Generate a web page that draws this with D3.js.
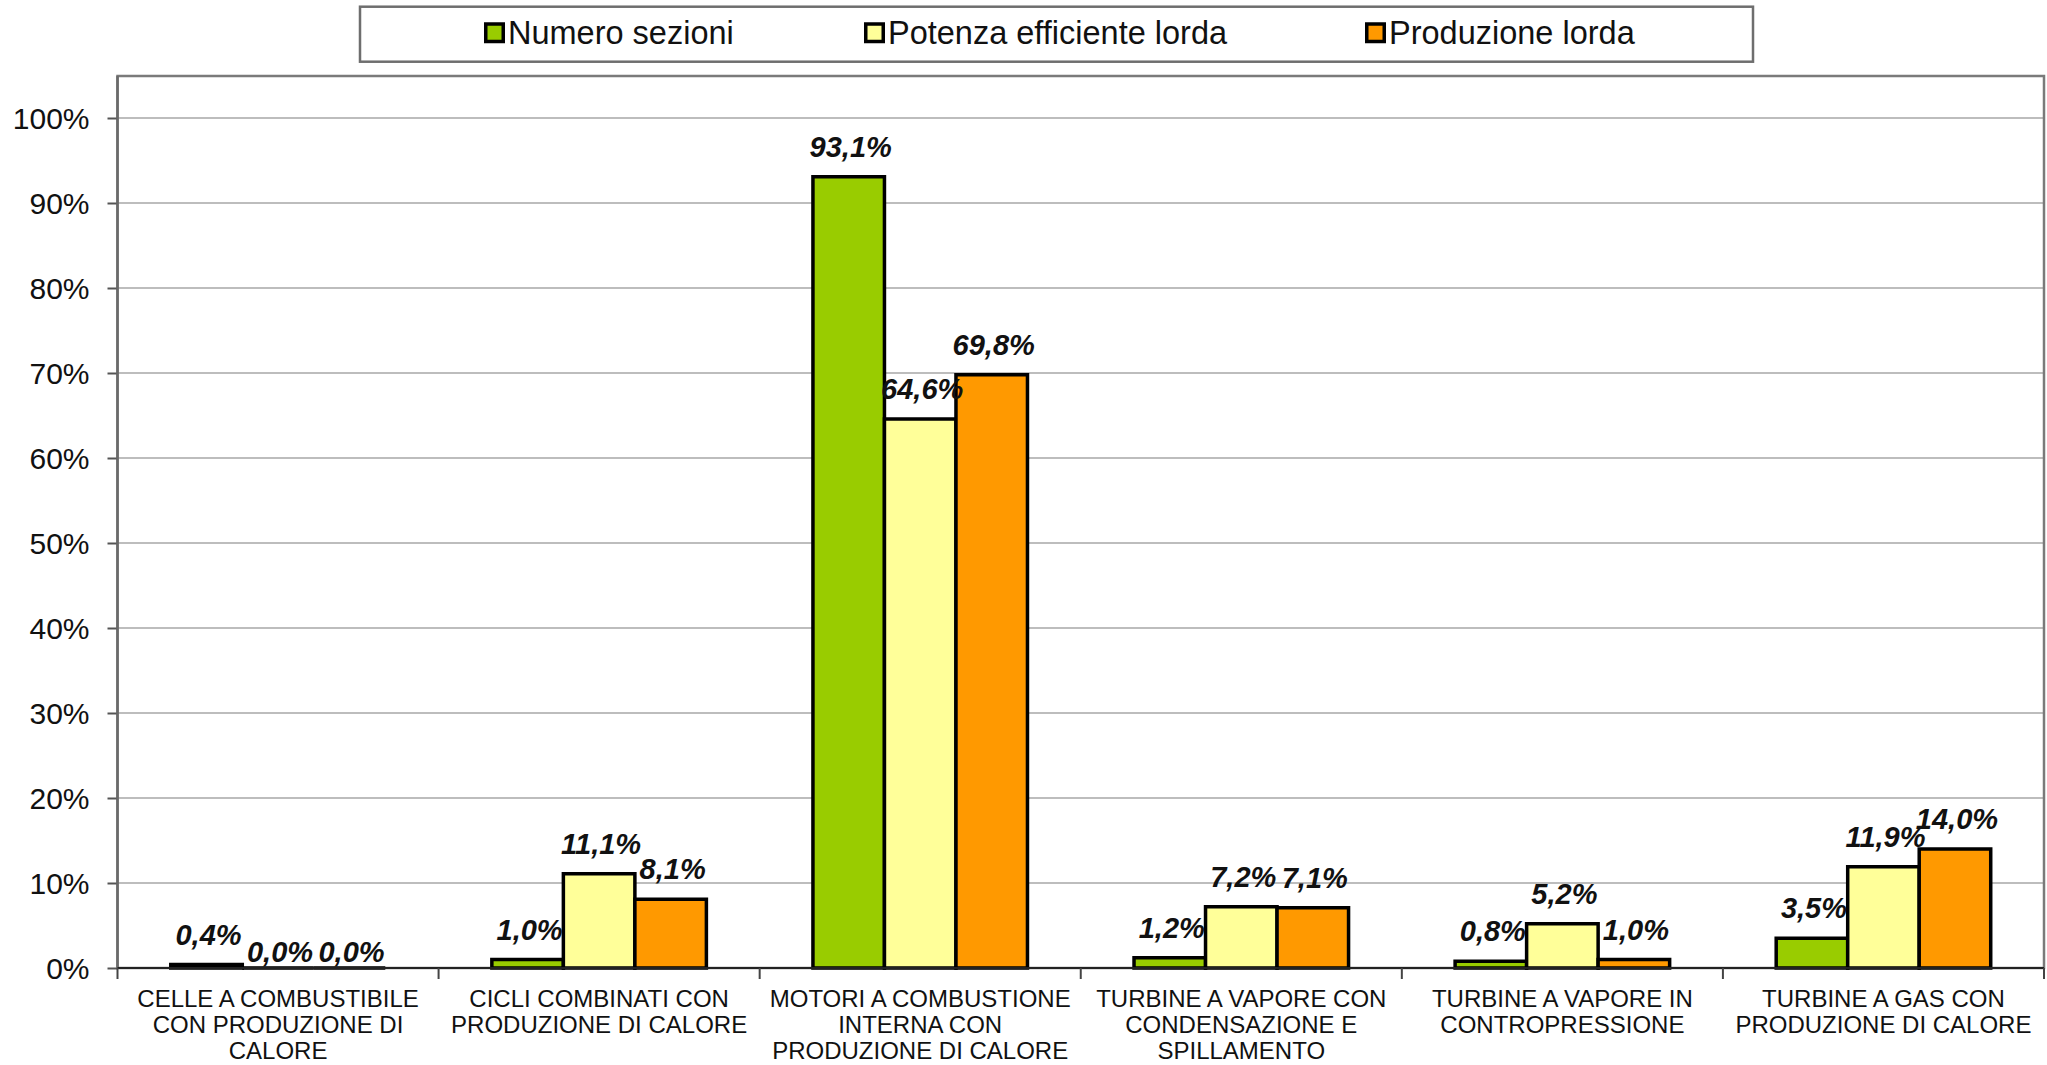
<!DOCTYPE html>
<html>
<head>
<meta charset="utf-8">
<script src="https://cdn.jsdelivr.net/npm/d3@7"></script>
<style>
  html, body { margin: 0; padding: 0; background: #fff; }
  svg { display: block; }
  text { font-family: "Liberation Sans", Arial, sans-serif; fill: #111; }
</style>
</head>
<body>
<svg id="chart" width="2047" height="1065"></svg>
<script>
// Category labels (already broken into lines as they appear under the axis)
const categories = [
  ["CELLE A COMBUSTIBILE", "CON PRODUZIONE DI", "CALORE"],
  ["CICLI COMBINATI CON", "PRODUZIONE DI CALORE"],
  ["MOTORI A COMBUSTIONE", "INTERNA CON", "PRODUZIONE DI CALORE"],
  ["TURBINE A VAPORE CON", "CONDENSAZIONE E", "SPILLAMENTO"],
  ["TURBINE A VAPORE IN", "CONTROPRESSIONE"],
  ["TURBINE A GAS CON", "PRODUZIONE DI CALORE"]
];
const seriesNames = ["Numero sezioni", "Potenza efficiente lorda", "Produzione lorda"];
const seriesColors = ["#99CC00", "#FFFF99", "#FF9900"];

// Percentages per category
const numeroSezioni   = [0.4, 1.0, 93.1, 1.2, 0.8, 3.5];
const potenzaLorda    = [0.0, 11.1, 64.6, 7.2, 5.2, 11.9];
const produzioneLorda = [0.0, 8.1, 69.8, 7.1, 1.0, 14.0];

const yTicks = [0, 10, 20, 30, 40, 50, 60, 70, 80, 90, 100];

const seriesValues = [numeroSezioni, potenzaLorda, produzioneLorda];

const svg = d3.select("#chart");
const plot = { left: 117.5, right: 2044, top: 76, bottom: 968 };

const catKeys = categories.map((c, i) => i);
const x0 = d3.scaleBand().domain(catKeys).range([plot.left, plot.right]).paddingInner(0).paddingOuter(0);
const x1 = d3.scaleBand().domain(d3.range(seriesNames.length)).range([0, x0.bandwidth()])
  .paddingInner(0).paddingOuter(0.745);
const y = d3.scaleLinear().domain([0, 100]).range([968, 118]);

// Gridlines
svg.append("g")
  .selectAll("line")
  .data(yTicks.filter(d => d > 0))
  .join("line")
  .attr("x1", plot.left).attr("x2", plot.right)
  .attr("y1", d => y(d)).attr("y2", d => y(d))
  .attr("stroke", "#bdbdbd").attr("stroke-width", 2);

// Plot frame
svg.append("rect")
  .attr("x", plot.left).attr("y", plot.top)
  .attr("width", plot.right - plot.left).attr("height", plot.bottom - plot.top)
  .attr("fill", "none").attr("stroke", "#7a7a7a").attr("stroke-width", 2.5);

// Y axis
const yAxis = d3.axisLeft(y).tickValues(yTicks).tickSize(10).tickSizeOuter(0).tickPadding(18)
  .tickFormat(d => d + "%");
const yg = svg.append("g").attr("transform", `translate(${plot.left},0)`).call(yAxis);
yg.select(".domain").remove();
yg.selectAll(".tick line").attr("stroke", "#555").attr("stroke-width", 2);
yg.selectAll(".tick text")
  .attr("font-size", 30).attr("dy", "0.36em")
  .style("font-family", "'Liberation Sans', Arial, sans-serif").attr("fill", "#111");
svg.append("line")
  .attr("x1", plot.left).attr("x2", plot.left)
  .attr("y1", plot.top).attr("y2", plot.bottom)
  .attr("stroke", "#6a6a6a").attr("stroke-width", 2.5);

// Bars
const fmt = v => v.toFixed(1).replace(".", ",") + "%";
const barData = [];
catKeys.forEach(ci => {
  seriesValues.forEach((vals, si) => {
    barData.push({ ci, si, v: vals[ci] });
  });
});

const bars = svg.append("g");
bars.selectAll("path")
  .data(barData)
  .join("path")
  .attr("d", d => {
    const xa = x0(d.ci) + x1(d.si);
    const xb = xa + x1.bandwidth();
    const ya = y(0), yb = y(d.v);
    return `M${xa},${ya}V${yb}H${xb}V${ya}Z`;
  })
  .attr("fill", d => seriesColors[d.si])
  .attr("stroke", "#000")
  .attr("stroke-width", 3.5)
  .attr("stroke-linejoin", "miter");

// X axis line and category ticks
svg.append("line")
  .attr("x1", plot.left).attr("x2", plot.right)
  .attr("y1", y(0)).attr("y2", y(0))
  .attr("stroke", "#222").attr("stroke-width", 2);
svg.append("g")
  .selectAll("line")
  .data(catKeys.map(ci => x0(ci)).concat([x0.range()[1]]))
  .join("line")
  .attr("x1", d => d).attr("x2", d => d)
  .attr("y1", y(0)).attr("y2", y(0) + 11)
  .attr("stroke", "#444").attr("stroke-width", 2);

// Value labels
svg.append("g")
  .selectAll("text")
  .data(barData)
  .join("text")
  .attr("x", d => x0(d.ci) + x1(d.si) + x1.bandwidth() / 2 + 2)
  .attr("y", d => y(d.v) - (d.v > 0 ? 20 : 6))
  .attr("text-anchor", "middle")
  .attr("font-size", 29)
  .attr("font-weight", "bold")
  .attr("font-style", "italic")
  .text(d => fmt(d.v));

// Category labels
const catG = svg.append("g");
categories.forEach((lines, ci) => {
  const t = catG.append("text")
    .attr("x", x0(ci) + x0.bandwidth() / 2)
    .attr("y", 1006.7)
    .attr("text-anchor", "middle")
    .attr("font-size", 24);
  lines.forEach((ln, li) => {
    t.append("tspan")
      .attr("x", x0(ci) + x0.bandwidth() / 2)
      .attr("dy", li === 0 ? 0 : 26.3)
      .text(ln);
  });
});

// Legend
const legendBox = { x: 360, y: 6.7, w: 1393, h: 55 };
svg.append("rect")
  .attr("x", legendBox.x).attr("y", legendBox.y)
  .attr("width", legendBox.w).attr("height", legendBox.h)
  .attr("fill", "#fff").attr("stroke", "#6e6e6e").attr("stroke-width", 2.5);

const legendX = [484, 864, 1365];
const lg = svg.append("g");
seriesNames.forEach((name, i) => {
  const g = lg.append("g").attr("transform", `translate(${legendX[i]},43.5)`);
  g.append("rect")
    .attr("x", 1.75).attr("y", -19.5)
    .attr("width", 17.5).attr("height", 17.5)
    .attr("fill", seriesColors[i]).attr("stroke", "#000").attr("stroke-width", 3.5);
  g.append("text")
    .attr("x", 24).attr("y", 0)
    .attr("font-size", 32.5)
    .text(name);
});
</script>
</body>
</html>
